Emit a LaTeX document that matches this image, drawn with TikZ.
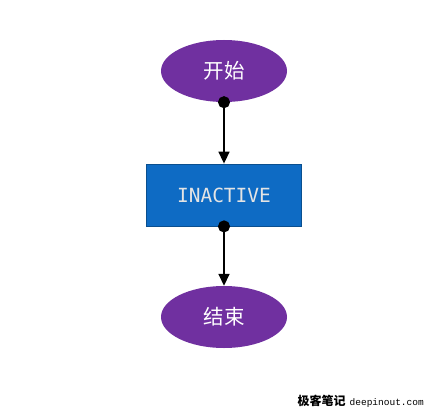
\documentclass[tikz,border=0pt]{standalone}
\usepackage{fontspec}
\newfontfamily\cjk{Noto Sans CJK SC}
\newfontfamily\monof{DejaVu Sans Mono}
\newfontfamily\wmono{Liberation Mono}
\usetikzlibrary{shapes.geometric,arrows.meta}
\definecolor{termpurple}{HTML}{7030A0}
\definecolor{stateblue}{HTML}{0E6BC4}
\definecolor{stateedge}{HTML}{0A4F8F}
\definecolor{lighttext}{HTML}{E4E4E4}
\tikzset{
  terminal/.style={ellipse, fill=termpurple, draw=none, minimum width=126pt, minimum height=62pt, inner sep=0pt, text=white, font=\cjk\fontsize{20.5}{24}\selectfont},
  statebox/.style={rectangle, fill=stateblue, draw=stateedge, line width=0.8pt, minimum width=155pt, minimum height=62pt, inner sep=0pt, text=lighttext, font=\monof\fontsize{19.5}{22}\selectfont},
  flow/.style={line width=1.6pt, {Circle[length=12pt]}-{Triangle[length=12pt,width=11pt]}, shorten <=-6pt},
}
\begin{document}
\begin{tikzpicture}[x=1pt,y=-1pt]
\useasboundingbox (0,0) rectangle (433,409);
\fill[white] (0,0) rectangle (433,409);
\node[terminal] (start) at (224,71) {开始};
\node[statebox] (inactive) at (224,195) {INACTIVE};
\node[terminal] (end) at (224,317) {结束};
\draw[flow] (start.south) -- (inactive.north);
\draw[flow] (inactive.south) -- (end.north);
\node[anchor=east, inner sep=0pt] (wm) at (424,401) {{\cjk\bfseries\fontsize{12}{14}\selectfont 极客笔记}\hspace{4pt}{\wmono\fontsize{9.5}{11}\selectfont deepinout.com}};
\end{tikzpicture}
\end{document}
